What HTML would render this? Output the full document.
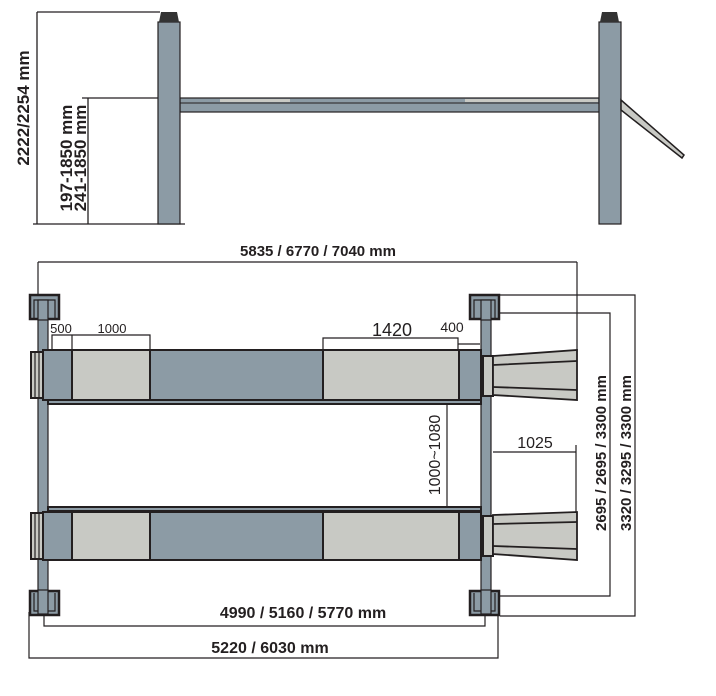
<!DOCTYPE html>
<html><head><style>body{margin:0;background:#fff}svg{display:block}text{font-family:"Liberation Sans",sans-serif;fill:#231f20}</style></head><body>
<svg width="716" height="696" viewBox="0 0 716 696" xmlns="http://www.w3.org/2000/svg">
<g stroke="#231f20" fill="none" stroke-width="1.3">
<line x1="37" y1="12" x2="160" y2="12"/><line x1="37" y1="12" x2="37" y2="224"/>
<line x1="33" y1="224" x2="185" y2="224"/>
<line x1="82" y1="98" x2="160" y2="98"/><line x1="88" y1="98" x2="88" y2="224"/>
</g>
<rect x="180" y="98" width="420" height="14" fill="#8c9ba5" stroke="#231f20" stroke-width="1.2"/>
<rect x="220" y="99" width="70" height="3" fill="#c8c9c4"/><rect x="465" y="99" width="133" height="3" fill="#c8c9c4"/>
<line x1="180" y1="103" x2="600" y2="103" stroke="#231f20" stroke-width="1"/>
<rect x="158" y="22" width="22" height="202" fill="#8c9ba5" stroke="#231f20" stroke-width="1.2"/>
<path d="M161 12h16l2 10h-20z" fill="#333"/>
<rect x="599" y="22" width="22" height="202" fill="#8c9ba5" stroke="#231f20" stroke-width="1.2"/>
<path d="M602 12h15l2 10h-19z" fill="#333"/>
<path d="M621 100L684 155L682 158L621 110z" fill="#c8c9c4" stroke="#231f20" stroke-width="1.5"/>
<text transform="translate(29,108) rotate(-90)" font-size="17" font-weight="bold" text-anchor="middle">2222/2254 mm</text>
<text transform="translate(72,158) rotate(-90)" font-size="17" font-weight="bold" text-anchor="middle">197-1850 mm</text>
<text transform="translate(86,158) rotate(-90)" font-size="17" font-weight="bold" text-anchor="middle">241-1850 mm</text>

<g stroke="#231f20" fill="none" stroke-width="1.2">
<line x1="38" y1="262" x2="577" y2="262"/><line x1="38" y1="262" x2="38" y2="300"/><line x1="577" y1="262" x2="577" y2="352"/>
<path d="M500 295H635V616H500"/><path d="M500 313H610V596H500"/>
<path d="M493 452H576M576 445V560"/>
<path d="M480 373H447V535H480"/>
<path d="M52 350V335H150V350M72 335V350"/>
<path d="M323 350V338H458V350M458 344H480"/>
<path d="M44 612V626H485V612"/>
<path d="M29 612V658H498V612"/>
</g>
<text x="318" y="256" font-size="15" font-weight="bold" text-anchor="middle">5835 / 6770 / 7040 mm</text>
<text x="61" y="333" font-size="13" text-anchor="middle">500</text>
<text x="112" y="333" font-size="13" text-anchor="middle">1000</text>
<text x="392" y="336" font-size="18" text-anchor="middle">1420</text>
<text x="452" y="332" font-size="14" text-anchor="middle">400</text>
<text x="535" y="448" font-size="16" text-anchor="middle">1025</text>
<text transform="translate(440,455) rotate(-90)" font-size="16" text-anchor="middle">1000~1080</text>
<text transform="translate(606,453) rotate(-90)" font-size="15" font-weight="bold" text-anchor="middle">2695 / 2695 / 3300 mm</text>
<text transform="translate(631,453) rotate(-90)" font-size="15" font-weight="bold" text-anchor="middle">3320 / 3295 / 3300 mm</text>
<text x="303" y="618" font-size="16" font-weight="bold" text-anchor="middle">4990 / 5160 / 5770 mm</text>
<text x="270" y="653" font-size="16" font-weight="bold" text-anchor="middle">5220 / 6030 mm</text>

<rect x="38" y="300" width="10" height="300" fill="#8c9ba5" stroke="#231f20" stroke-width="1.2"/>
<rect x="481" y="300" width="10" height="300" fill="#8c9ba5" stroke="#231f20" stroke-width="1.2"/>
<g stroke="#231f20" stroke-width="2">
<rect x="43" y="350" width="29" height="50" fill="#8c9ba5"/><rect x="72" y="350" width="78" height="50" fill="#c8c9c4"/>
<rect x="150" y="350" width="173" height="50" fill="#8c9ba5"/><rect x="323" y="350" width="136" height="50" fill="#c8c9c4"/>
<rect x="459" y="350" width="22" height="50" fill="#8c9ba5"/>
<rect x="43" y="512" width="29" height="48" fill="#8c9ba5"/><rect x="72" y="512" width="78" height="48" fill="#c8c9c4"/>
<rect x="150" y="512" width="173" height="48" fill="#8c9ba5"/><rect x="323" y="512" width="136" height="48" fill="#c8c9c4"/>
<rect x="459" y="512" width="22" height="48" fill="#8c9ba5"/>
<rect x="48" y="400" width="433" height="4" fill="#8c9ba5"/><rect x="48" y="507" width="433" height="4" fill="#8c9ba5"/>
<rect x="31" y="352" width="12" height="46" fill="#c8c9c4"/><rect x="31" y="513" width="12" height="46" fill="#c8c9c4"/>
<rect x="483" y="356" width="10" height="40" fill="#c8c9c4"/><rect x="483" y="516" width="10" height="40" fill="#c8c9c4"/>
</g>
<g stroke="#231f20" stroke-width="1.2">
<line x1="35" y1="353" x2="35" y2="397"/><line x1="39" y1="353" x2="39" y2="397"/>
<line x1="35" y1="514" x2="35" y2="558"/><line x1="39" y1="514" x2="39" y2="558"/>
</g>
<g stroke="#231f20" stroke-width="1.8" fill="#c8c9c4">
<path d="M493 356L577 350V400L493 395z"/><path d="M493 365L577 361M493 387L577 390" fill="none"/>
<path d="M493 515L577 512V560L493 554z"/><path d="M493 524L577 522M493 546L577 549" fill="none"/>
</g>
<g stroke="#231f20" stroke-width="2.5" fill="#8c9ba5">
<rect x="30" y="295" width="29" height="24"/><rect x="470" y="295" width="29" height="24"/>
<rect x="30" y="591" width="29" height="24"/><rect x="470" y="591" width="29" height="24"/>
</g>
<g fill="#8c9ba5" stroke="#231f20" stroke-width="1.2">
<path d="M34 318V300H55V318M474 318V300H495V318M34 593V611H55V593M474 593V611H495V593" fill="none"/>
<rect x="38" y="300" width="10" height="20"/><rect x="481" y="300" width="10" height="20"/>
<rect x="38" y="590" width="10" height="24"/><rect x="481" y="590" width="10" height="24"/>
</g>
</svg>
</body></html>
